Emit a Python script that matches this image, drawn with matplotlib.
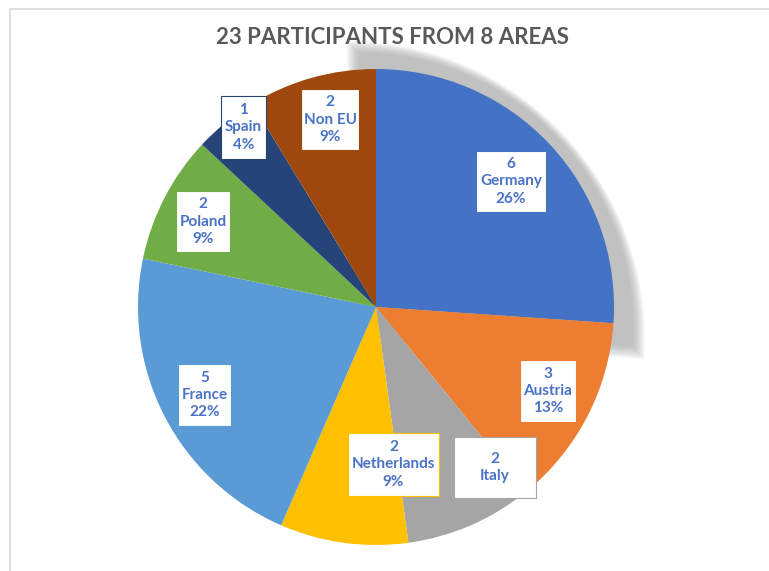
#!/usr/bin/env python3

"""Pie chart of participants per area."""

import matplotlib
matplotlib.use('Agg')
import matplotlib.pyplot as plt
from matplotlib.patches import Wedge, Rectangle
import numpy as np

AREAS = ['Germany', 'Austria', 'Italy', 'Netherlands', 'France', 'Poland', 'Spain', 'Non EU']
COUNTS = [6, 3, 2, 2, 5, 2, 1, 2]
COLORS = ['#4472C4', '#ED7D31', '#A5A5A5', '#FFC000', '#5B9BD5', '#70AD47', '#264478', '#9E480E']
SHOW_PCT = [True, True, False, True, True, True, True, True]
TITLE = '23 PARTICIPANTS FROM 8 AREAS'

W, H = 769, 571
# label boxes in pixel coords (x0, y0 top, width, height)
BOXES = [(476, 151, 70, 61), (520, 360, 56, 62), (454, 437, 82, 61), (348, 433, 91, 63),
         (178, 364, 53, 62), (176, 191, 54, 61), (221, 96, 45, 63), (301, 89, 58, 61)]
TEXT_BLUE = '#4A72C6'


def py(y):
    """pixel row to data y"""
    return H - y


def main():
    fig = plt.figure(figsize=(W / 100, H / 100), dpi=100)
    ax = fig.add_axes([0, 0, 1, 1])

    total = sum(COUNTS)
    center = (376, py(307))
    radius = 238

    # soft shadow behind the first slice
    span = 360.0 * COUNTS[0] / total
    sc = (353, py(333))
    sr = 286
    for d in np.arange(-6, 7, 1):
        ax.add_patch(Wedge((sc[0] - d, sc[1] - d), sr + 2 * d, 90 - span, 90,
                           facecolor='#a0a0a0', edgecolor='none', alpha=0.07, zorder=1))

    wedges, _ = ax.pie(COUNTS, colors=COLORS, startangle=90, counterclock=False,
                       center=center, radius=radius,
                       wedgeprops={'linewidth': 0})
    for w in wedges:
        w.set_zorder(2)

    for i, area in enumerate(AREAS):
        x0, y0, bw, bh = BOXES[i]
        ax.add_patch(Rectangle((x0, py(y0 + bh)), bw, bh, facecolor='white',
                               edgecolor=COLORS[i], linewidth=0.8, zorder=3))
        label = f"{COUNTS[i]}\n{area}"
        if SHOW_PCT[i]:
            label += f"\n{round(100 * COUNTS[i] / total)}%"
        ax.text(x0 + bw / 2, py(y0 + bh / 2), label, ha='center', va='center',
                multialignment='center', fontsize=11, fontfamily='Lato',
                fontweight='bold', color=TEXT_BLUE, linespacing=1.3, zorder=4)

    ax.text(392, py(37), TITLE, ha='center', va='center', fontsize=16,
            fontfamily='Lato', fontweight='bold', color='#595959', zorder=4)

    # chart frame (only left and top visible)
    ax.add_patch(Rectangle((9.5, py(W)), W, py(9) - py(W), facecolor='none',
                           edgecolor='#d9d9d9', linewidth=1.2, zorder=0))

    ax.set_xlim(0, W)
    ax.set_ylim(0, H)
    ax.set_aspect('equal')
    ax.axis('off')
    plt.savefig('out.png', dpi=100)


if __name__ == "__main__":
    main()
